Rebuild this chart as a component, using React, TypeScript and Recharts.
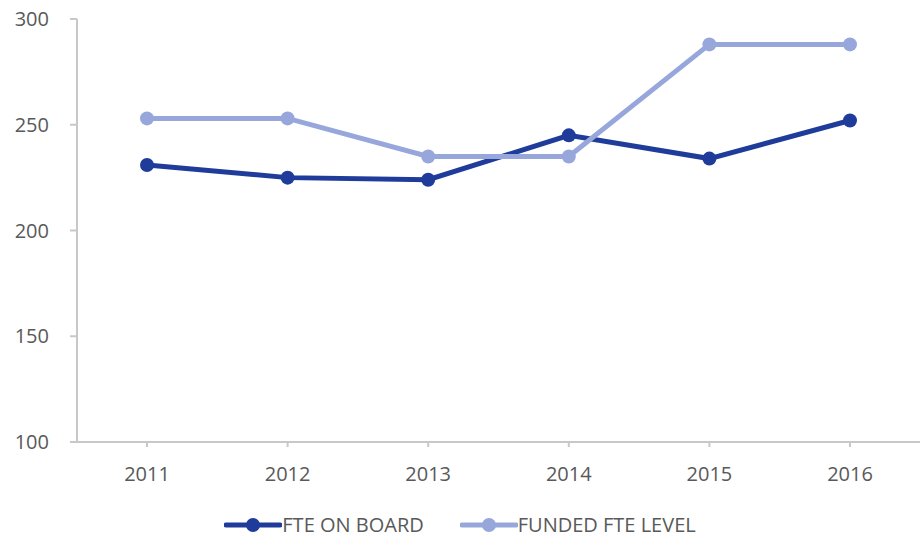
import { LineChart, Line, XAxis, YAxis, Legend } from "recharts";

const years = ["2011", "2012", "2013", "2014", "2015", "2016"];
const fteOnBoard = [231, 225, 224, 245, 234, 252];
const fundedFte = [253, 253, 235, 235, 288, 288];
const yTicks = [100, 150, 200, 250, 300];

const DARK = "#1f3c9b";
const LIGHT = "#97a7dc";
const FONT = "'Open Sans', sans-serif";

const data = years.map((year, i) => ({
  year,
  onBoard: fteOnBoard[i],
  funded: fundedFte[i],
}));

const legendItems = [
  { label: "FTE ON BOARD", color: DARK },
  { label: "FUNDED FTE LEVEL", color: LIGHT },
];

function ChartLegend() {
  return (
    <div
      style={{
        height: 45,
        paddingTop: 23,
        boxSizing: "border-box",
        display: "flex",
        justifyContent: "center",
        gap: 36,
        fontFamily: FONT,
        fontSize: 20,
        color: "#595959",
      }}
    >
      {legendItems.map((item) => (
        <div key={item.label} style={{ display: "flex", alignItems: "center", height: 20 }}>
          <svg width={58} height={20}>
            <line x1={2} y1={10} x2={56} y2={10} stroke={item.color} strokeWidth={5} strokeLinecap="round" />
            <circle cx={29} cy={10} r={7} fill={item.color} />
          </svg>
          <span style={{ lineHeight: "20px" }}>{item.label}</span>
        </div>
      ))}
    </div>
  );
}

export default function App() {
  return (
    <div style={{ position: "absolute", left: 0, top: 0, width: 920, height: 537, background: "#fff" }}>
      <LineChart width={920} height={537} data={data} margin={{ top: 19, right: 0, bottom: 0, left: 0 }}>
        <XAxis
          dataKey="year"
          height={50}
          padding={{ left: 70, right: 70 }}
          axisLine={{ stroke: "#c8c8c8", strokeWidth: 2 }}
          tickLine={{ stroke: "#c8c8c8", strokeWidth: 2 }}
          tickSize={5}
          tickMargin={20}
          tick={{ fill: "#595959", fontSize: 20, fontFamily: FONT }}
        />
        <YAxis
          width={77}
          domain={[100, 300]}
          ticks={yTicks}
          interval={0}
          axisLine={{ stroke: "#c8c8c8", strokeWidth: 2 }}
          tickLine={{ stroke: "#c8c8c8", strokeWidth: 2 }}
          tickSize={7}
          tickMargin={21}
          tick={{ fill: "#595959", fontSize: 20, fontFamily: FONT }}
        />
        <Legend verticalAlign="bottom" content={() => <ChartLegend />} />
        <Line
          dataKey="onBoard"
          name="FTE ON BOARD"
          stroke={DARK}
          strokeWidth={5}
          dot={{ r: 7, fill: DARK, stroke: DARK, strokeWidth: 0 }}
          activeDot={false}
          isAnimationActive={false}
        />
        <Line
          dataKey="funded"
          name="FUNDED FTE LEVEL"
          stroke={LIGHT}
          strokeWidth={5}
          dot={{ r: 7, fill: LIGHT, stroke: LIGHT, strokeWidth: 0 }}
          activeDot={false}
          isAnimationActive={false}
        />
      </LineChart>
    </div>
  );
}
